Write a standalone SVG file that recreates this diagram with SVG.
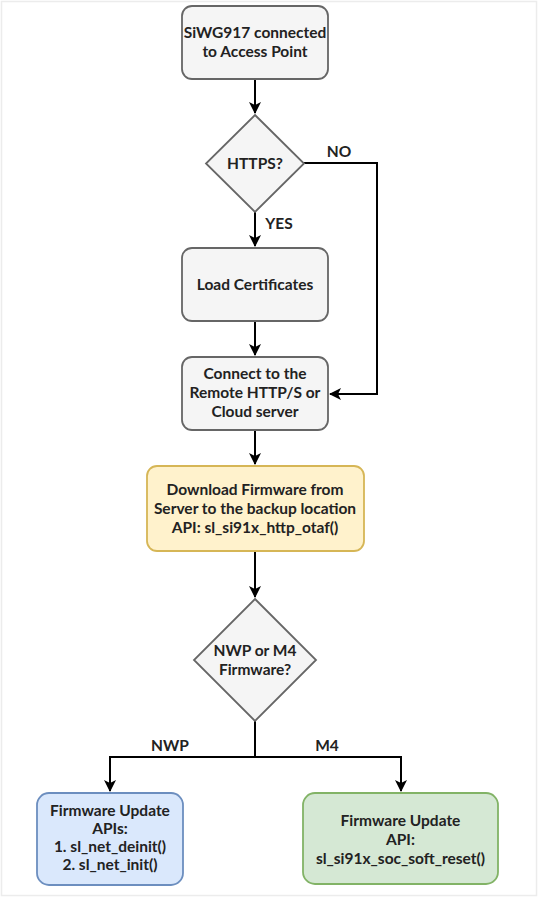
<svg xmlns="http://www.w3.org/2000/svg" width="538" height="898" viewBox="0 0 538 898">
<defs>
<style>
.t{font-family:Lato,"Liberation Sans",sans-serif;font-weight:700;font-size:15.5px;fill:#222;text-anchor:middle}
.gray{fill:#f5f5f5;stroke:#666;stroke-width:1.8}
.yel{fill:#fff2cc;stroke:#d6b656;stroke-width:1.8}
.blue{fill:#dae8fc;stroke:#6c8ebf;stroke-width:1.8}
.green{fill:#d5e8d4;stroke:#82b366;stroke-width:1.8}
.c{fill:none;stroke:#000;stroke-width:2}
</style>
<marker id="ah" markerUnits="userSpaceOnUse" markerWidth="14" markerHeight="14" viewBox="0 0 14 14" refX="12" refY="7" orient="auto">
<path d="M1,1 L13,7 L1,13 L4,7 Z" fill="#000"/>
</marker>
</defs>
<rect x="0" y="0" width="538" height="898" fill="#fff"/>
<rect x="1.5" y="1.5" width="535" height="894" fill="none" stroke="#ececec" stroke-width="1.5"/>

<g id="connectors">
<path class="c" d="M255,79 L255,113" marker-end="url(#ah)"/>
<path class="c" d="M255,212 L255,246" marker-end="url(#ah)"/>
<path class="c" d="M304,163 L377,163 L377,394 L330,394" marker-end="url(#ah)"/>
<path class="c" d="M255,321 L255,355" marker-end="url(#ah)"/>
<path class="c" d="M255,430 L255,464" marker-end="url(#ah)"/>
<path class="c" d="M255,551 L255,597" marker-end="url(#ah)"/>
<path class="c" d="M255,721 L255,757 L110,757 L110,791" marker-end="url(#ah)"/>
<path class="c" d="M255,757 L401,757 L401,791" marker-end="url(#ah)"/>
<text class="t" x="339" y="157">NO</text>
<text class="t" x="279" y="229">YES</text>
<text class="t" x="170" y="751">NWP</text>
<text class="t" x="327" y="751">M4</text>
</g>

<g id="n1">
<rect class="gray" x="182" y="6" width="146" height="73" rx="10"/>
<text class="t" x="255" y="38">SiWG917 connected</text>
<text class="t" x="255" y="57">to Access Point</text>
</g>
<g id="n2">
<polygon class="gray" points="255,115 304,163.5 255,212 206,163.5"/>
<text class="t" x="255" y="169">HTTPS?</text>
</g>
<g id="n3">
<rect class="gray" x="182" y="248" width="146" height="73" rx="10"/>
<text class="t" x="255" y="290">Load Certificates</text>
</g>
<g id="n4">
<rect class="gray" x="182" y="357" width="146" height="73" rx="10"/>
<text class="t" x="255" y="379">Connect to the</text>
<text class="t" x="255" y="398">Remote HTTP/S or</text>
<text class="t" x="255" y="417">Cloud server</text>
</g>
<g id="n5">
<rect class="yel" x="147" y="466" width="217" height="85" rx="10"/>
<text class="t" x="255" y="495">Download Firmware from</text>
<text class="t" x="255" y="514">Server to the backup location</text>
<text class="t" x="255" y="533">API: sl_si91x_http_otaf()</text>
</g>
<g id="n6">
<polygon class="gray" points="255,599 316,660 255,721 194,660"/>
<text class="t" x="255" y="656">NWP or M4</text>
<text class="t" x="255" y="675">Firmware?</text>
</g>
<g id="n7">
<rect class="blue" x="37" y="793" width="146" height="92" rx="12"/>
<text class="t" x="110" y="816">Firmware Update</text>
<text class="t" x="110" y="834">APIs:</text>
<text class="t" x="110" y="852">1. sl_net_deinit()</text>
<text class="t" x="110" y="870">2. sl_net_init()</text>
</g>
<g id="n8">
<rect class="green" x="303" y="793" width="195" height="91" rx="12"/>
<text class="t" x="400.5" y="826">Firmware Update</text>
<text class="t" x="400.5" y="845">API:</text>
<text class="t" x="400.5" y="864">sl_si91x_soc_soft_reset()</text>
</g>
</svg>
